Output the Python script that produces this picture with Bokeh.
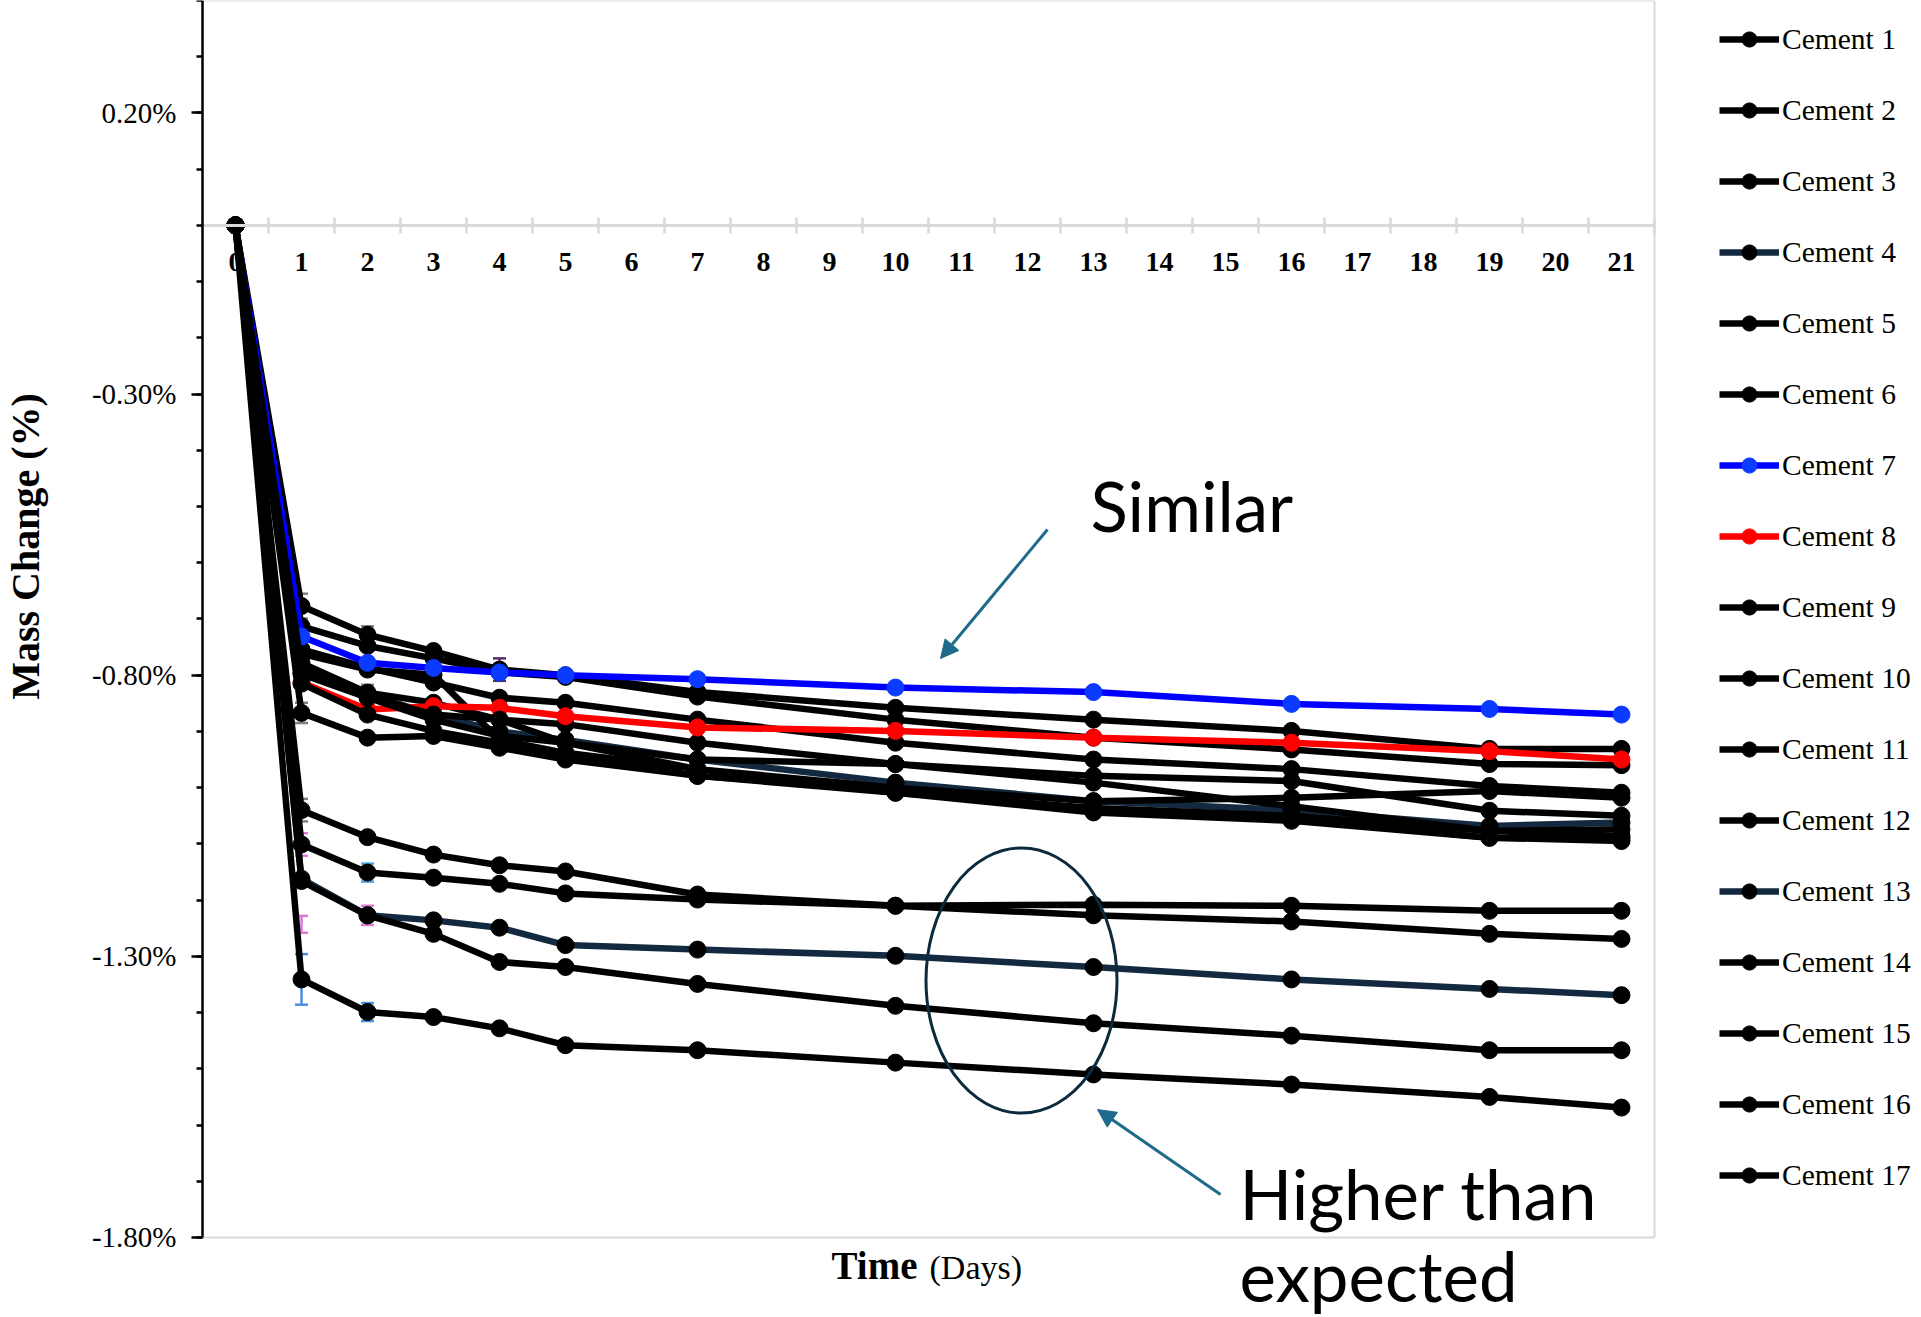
import math
from bokeh.plotting import figure
from bokeh.models import (LinearAxis, FixedTicker, PrintfTickFormatter, Legend, LegendItem,
                          Label, Arrow, NormalHead)
from bokeh.embed import file_html
from bokeh.resources import INLINE

# ---------------- data ----------------
days = [0, 1, 2, 3, 4, 5, 7, 10, 13, 16, 19, 21]
names = ["Cement %d" % i for i in range(1, 18)]

c1 = [0, -0.677, -0.728, -0.757, -0.790, -0.800, -0.830, -0.858, -0.879, -0.899, -0.931, -0.931]
c2 = [0, -0.713, -0.748, -0.770, -0.795, -0.803, -0.838, -0.879, -0.911, -0.932, -0.958, -0.960]
c3 = [0, -0.754, -0.787, -0.813, -0.840, -0.849, -0.879, -0.920, -0.950, -0.967, -0.997, -1.009]
c4 = [0, -0.796, -0.834, -0.870, -0.900, -0.915, -0.950, -0.991, -1.024, -1.040, -1.068, -1.062]
c5 = [0, -0.762, -0.790, -0.799, -0.915, -0.938, -0.967, -1.000, -1.024, -1.018, -1.006, -1.018]
c6 = [0, -0.778, -0.831, -0.849, -0.879, -0.887, -0.920, -0.958, -0.979, -0.988, -1.041, -1.050]
c7 = [0, -0.731, -0.778, -0.787, -0.795, -0.800, -0.807, -0.822, -0.830, -0.851, -0.860, -0.870]
c8 = [0, -0.813, -0.861, -0.855, -0.858, -0.873, -0.893, -0.899, -0.911, -0.920, -0.935, -0.950]
c9 = [0, -0.786, -0.837, -0.870, -0.879, -0.920, -0.950, -0.958, -0.991, -1.033, -1.077, -1.074]
c10 = [0, -0.798, -0.840, -0.879, -0.908, -0.920, -0.967, -1.009, -1.036, -1.050, -1.077, -1.086]
c11 = [0, -0.815, -0.870, -0.899, -0.920, -0.940, -0.979, -1.009, -1.044, -1.059, -1.089, -1.090]
c12 = [0, -0.867, -0.911, -0.908, -0.929, -0.950, -0.979, -1.005, -1.040, -1.055, -1.089, -1.095]
c13 = [0, -1.162, -1.227, -1.236, -1.249, -1.280, -1.288, -1.299, -1.319, -1.341, -1.358, -1.369]
c14 = [0, -1.040, -1.088, -1.119, -1.138, -1.149, -1.190, -1.210, -1.208, -1.210, -1.219, -1.219]
c15 = [0, -1.101, -1.151, -1.160, -1.171, -1.188, -1.199, -1.210, -1.227, -1.238, -1.260, -1.269]
c16 = [0, -1.166, -1.227, -1.260, -1.310, -1.319, -1.349, -1.388, -1.419, -1.441, -1.467, -1.467]
c17 = [0, -1.341, -1.399, -1.408, -1.428, -1.458, -1.467, -1.489, -1.510, -1.528, -1.550, -1.569]
series = [c1, c2, c3, c4, c5, c6, c7, c8, c9, c10, c11, c12, c13, c14, c15, c16, c17]

# error bars (day, mean, half-width, colour)
err_day = [1, 2, 1, 4, 2, 1, 1, 2, 2, 1, 1, 2]
err_val = [-0.677, -0.728, -0.867, -0.790, -0.831, -1.040, -1.101, -1.151, -1.227, -1.243, -1.341, -1.399]
err_half = [0.022, 0.015, 0.018, 0.020, 0.014, 0.020, 0.020, 0.016, 0.017, 0.015, 0.045, 0.016]
err_color = ["#7F7F7F", "#7F7F7F", "#7F7F7F", "#5C2D6E", "#7F7F7F", "#7F7F7F",
             "#DD77D8", "#3FA9E0", "#DD77D8", "#DD77D8", "#4A90E2", "#4A90E2"]

x_ticks = list(range(0, 22))
x_minor = [i + 0.5 for i in range(-1, 22)]
y_major = [-1.8, -1.3, -0.8, -0.3, 0.2]
y_minor = [round(-1.8 + 0.1 * i, 2) for i in range(23)]

NAVY = "#13293F"
line_colors = ["#000000"] * 17
line_colors[3] = NAVY
line_colors[6] = "#0000FF"
line_colors[7] = "#FF0000"
line_colors[12] = NAVY
marker_colors = ["#000000"] * 17
marker_colors[6] = "#0B3BFF"
marker_colors[7] = "#FF0000"

SERIF = "Liberation Serif"
ANN = "Lato"
GRAY = "#D9D9D9"

# ---------------- geometry (page pixels) ----------------
W, H = 1920, 1316
X_LEFT_PX = 202.0      # pixel of day -0.5 (the y axis)
PX_DAY = 66.0
PX_PCT = 562.27        # pixels per 1 %
Y_TOP = 0.4            # value at the top edge


def dx(px):
    return -0.5 + (px - X_LEFT_PX) / PX_DAY


def dy(py):
    return Y_TOP - py / PX_PCT


p = figure(width=W, height=H, x_range=(dx(0), dx(W)), y_range=(dy(H), dy(0)),
           x_axis_location=None, y_axis_location=None,
           output_backend="svg", toolbar_location=None,
           min_border_left=0, min_border_right=0, min_border_top=0, min_border_bottom=0)
p.grid.visible = False
p.outline_line_color = None
p.background_fill_color = "white"
p.border_fill_color = "white"

# y axis (at day -0.5)
ya = LinearAxis(fixed_location=-0.5, bounds=(-1.8, 0.4),
                ticker=FixedTicker(ticks=y_major, minor_ticks=y_minor),
                formatter=PrintfTickFormatter(format="%.2f%%"))
ya.axis_line_width = 2.5
ya.axis_line_color = "black"
ya.major_tick_line_width = 2.5
ya.minor_tick_line_width = 2.5
ya.major_tick_out = 11
ya.major_tick_in = 0
ya.minor_tick_out = 6
ya.minor_tick_in = 0
ya.major_label_text_font = SERIF
ya.major_label_text_font_size = "29px"
ya.major_label_text_color = "black"
ya.major_label_standoff = 15
p.add_layout(ya, "left")

# frame lines (right edge, bottom edge, top edge)
b = LinearAxis(fixed_location=21.5, bounds=(-1.8, 0.4), ticker=FixedTicker(ticks=[]))
b.axis_line_color = GRAY
b.axis_line_width = 2
b.major_tick_out = 0
b.minor_tick_out = 0
b.major_label_text_font_size = "0px"
p.add_layout(b, "right")
for loc in [-1.8, 0.4]:
    b = LinearAxis(fixed_location=loc, bounds=(-0.5, 21.5), ticker=FixedTicker(ticks=[]))
    b.axis_line_color = GRAY
    b.axis_line_width = 2
    b.major_tick_out = 0
    b.minor_tick_out = 0
    b.major_label_text_font_size = "0px"
    p.add_layout(b, "below")

# x axis drawn at y = 0
xa = LinearAxis(fixed_location=0, bounds=(-0.5, 21.5),
                ticker=FixedTicker(ticks=x_ticks, minor_ticks=x_minor))
xa.axis_line_color = GRAY
xa.axis_line_width = 3
xa.major_tick_in = 0
xa.major_tick_out = 0
xa.minor_tick_in = 8
xa.minor_tick_out = 8
xa.minor_tick_line_color = GRAY
xa.minor_tick_line_width = 2.5
xa.major_label_text_font = SERIF
xa.major_label_text_font_style = "bold"
xa.major_label_text_font_size = "28px"
xa.major_label_text_color = "black"
xa.major_label_standoff = 20
p.add_layout(xa, "below")

# error bars
lo = [v - h for v, h in zip(err_val, err_half)]
hi = [v + h for v, h in zip(err_val, err_half)]
p.segment(x0=err_day, y0=lo, x1=err_day, y1=hi, line_color=err_color, line_width=2.5)
p.scatter(x=err_day + err_day, y=lo + hi, marker="dash", size=13, line_color=err_color + err_color,
          line_width=2.5)

items = []
for i, vals in enumerate(series):
    lr = p.line(days, vals, line_color=line_colors[i], line_width=6.5)
    sr = p.scatter(days, vals, size=17, fill_color=marker_colors[i], line_color=marker_colors[i])
    items.append(LegendItem(label=names[i], renderers=[lr, sr]))

# legend: 17 rows of 71 px, first row centred at y = 39 px
GLYPH_H, SPACING = 38, 33
leg_h = 17 * GLYPH_H + 16 * SPACING
leg_top = 39 - GLYPH_H / 2
legend = Legend(items=items, location=(1719, H - (leg_top + leg_h)), orientation="vertical",
                glyph_width=60, glyph_height=GLYPH_H, label_height=GLYPH_H, spacing=SPACING,
                padding=0, margin=0,
                label_standoff=3, label_text_font=SERIF, label_text_font_size="29.5px",
                label_text_color="black", border_line_color=None, background_fill_alpha=0)
p.add_layout(legend)

# ---------------- annotations ----------------
ARROW_C = "#1E6A8A"
p.add_layout(Arrow(end=NormalHead(size=18, fill_color=ARROW_C, line_color=ARROW_C),
                   x_start=dx(1047), y_start=dy(529), x_end=dx(940), y_end=dy(658),
                   line_color=ARROW_C, line_width=3))
p.add_layout(Arrow(end=NormalHead(size=18, fill_color=ARROW_C, line_color=ARROW_C),
                   x_start=dx(1220), y_start=dy(1194), x_end=dx(1097), y_end=dy(1109),
                   line_color=ARROW_C, line_width=3))
p.ellipse(x=dx(1021), y=dy(980), width=191 / PX_DAY, height=265 / PX_PCT, fill_alpha=0,
          line_color="#0B2A3D", line_width=3)

for txt, px, py in [("Similar", 1090, 505), ("Higher than", 1239, 1193), ("expected", 1239, 1275)]:
    p.add_layout(Label(x=dx(px), y=dy(py), text=txt, text_font=ANN, text_font_size="69px",
                       text_baseline="middle", text_align="left", text_color="black"))

p.add_layout(Label(x=dx(831), y=dy(1265), text="Time", text_font=SERIF, text_font_style="bold",
                   text_font_size="39px", text_baseline="middle", text_align="left",
                   text_color="black"))
p.add_layout(Label(x=dx(929), y=dy(1267), text="(Days)", text_font=SERIF,
                   text_font_size="34px", text_baseline="middle", text_align="left",
                   text_color="black"))
p.add_layout(Label(x=dx(25), y=dy(546), text="Mass Change (%)", text_font=SERIF,
                   text_font_style="bold", text_font_size="40px", angle=math.pi / 2,
                   text_baseline="middle", text_align="center", text_color="black"))

open("out.html", "w").write(file_html(p, INLINE))
